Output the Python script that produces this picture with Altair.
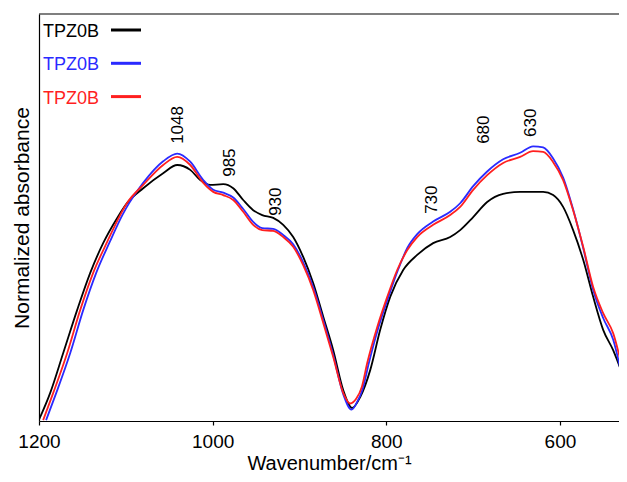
import altair as alt
import pandas as pd

# ---- series identity ----
series_names = ["TPZ0B", "TPZ0B", "TPZ0B"]
series_colors = ["#000000", "#2a2aff", "#ff1f1f"]

# ---- black spectrum ----
black_wn = [1200.0, 1187.1, 1172.1, 1156.0, 1141.0, 1126.1, 1109.9, 1098.4, 1080.0, 1057.0,
            1040.8, 1025.8, 1014.3, 1002.8, 987.8, 976.3, 964.8, 953.3, 942.9, 930.2,
            918.7, 907.2, 895.7, 884.2, 872.6, 861.1, 849.6, 839.3, 830.0, 818.5,
            807.0, 795.5, 780.5, 764.4, 746.0, 726.4, 714.9, 699.9, 683.8, 665.4,
            645.8, 619.3, 607.8, 596.3, 584.8, 573.2, 561.7, 550.2, 538.7, 527.2, 522.7]
black_abs = [0.003, 0.069, 0.167, 0.273, 0.364, 0.437, 0.499, 0.536, 0.572, 0.609,
             0.629, 0.617, 0.592, 0.580, 0.582, 0.572, 0.543, 0.518, 0.506, 0.499,
             0.482, 0.452, 0.403, 0.339, 0.256, 0.174, 0.076, 0.032, 0.059, 0.125,
             0.224, 0.305, 0.371, 0.408, 0.437, 0.452, 0.469, 0.501, 0.538, 0.558,
             0.563, 0.563, 0.555, 0.526, 0.469, 0.396, 0.305, 0.224, 0.174, 0.108, 0.075]

# ---- blue spectrum ----
blue_wn = [1191.8, 1180.1, 1164.0, 1149.0, 1134.1, 1118.5, 1104.0, 1096.0, 1080.0, 1057.0,
           1040.8, 1025.8, 1010.8, 999.3, 987.8, 976.3, 964.8, 953.3, 942.9, 930.2,
           918.7, 907.2, 895.7, 884.2, 872.6, 861.1, 849.6, 840.0, 833.5, 827.0,
           820.0, 808.9, 797.5, 786.0, 775.8, 764.4, 746.0, 726.4, 714.9, 699.9,
           683.8, 665.4, 645.8, 630.9, 619.3, 607.8, 596.3, 584.8, 573.2, 561.7,
           550.2, 538.7, 527.2, 522.7]
blue_abs = [0.002, 0.069, 0.167, 0.273, 0.364, 0.440, 0.506, 0.536, 0.585, 0.638,
            0.657, 0.637, 0.592, 0.568, 0.561, 0.549, 0.521, 0.489, 0.474, 0.472,
            0.457, 0.434, 0.390, 0.329, 0.248, 0.162, 0.066, 0.028, 0.047, 0.080,
            0.143, 0.231, 0.305, 0.374, 0.425, 0.459, 0.490, 0.514, 0.535, 0.577,
            0.613, 0.643, 0.659, 0.675, 0.672, 0.645, 0.598, 0.520, 0.425, 0.322,
            0.253, 0.200, 0.100, 0.062]

# ---- red spectrum ----
red_wn = [1195.2, 1183.6, 1167.5, 1152.5, 1137.6, 1121.5, 1106.5, 1098.4, 1080.0, 1057.0,
          1040.8, 1025.8, 1010.8, 999.3, 987.8, 976.3, 964.8, 953.3, 942.9, 930.2,
          918.7, 907.2, 895.7, 884.2, 872.6, 861.1, 849.6, 841.5, 834.5, 828.0,
          821.9, 810.4, 798.9, 787.4, 775.8, 764.4, 746.0, 726.4, 714.9, 699.9,
          683.8, 665.4, 645.8, 630.9, 619.3, 607.8, 596.3, 584.8, 573.2, 561.7,
          550.2, 538.7, 527.2, 522.7]
red_abs = [0.002, 0.069, 0.167, 0.273, 0.364, 0.440, 0.506, 0.536, 0.580, 0.629,
           0.649, 0.629, 0.585, 0.563, 0.555, 0.543, 0.514, 0.482, 0.469, 0.467,
           0.452, 0.428, 0.383, 0.322, 0.241, 0.157, 0.069, 0.043, 0.055, 0.085,
           0.143, 0.231, 0.305, 0.371, 0.420, 0.452, 0.482, 0.506, 0.526, 0.568,
           0.604, 0.634, 0.649, 0.663, 0.661, 0.636, 0.592, 0.518, 0.428, 0.329,
           0.265, 0.216, 0.125, 0.093]

# ---- peak annotations ----
peak_labels = ["1048", "985", "930", "730", "680", "630"]
peak_wn = [1039.7, 980.1, 926.8, 747.1, 687.2, 633.1]
peak_abs = [0.681, 0.600, 0.504, 0.509, 0.681, 0.698]

FONT = "Liberation Sans"
W, H = 580, 407
PX_PER_UNIT = 0.8682
x_end = 1200 - W / PX_PER_UNIT

x_scale = alt.Scale(domain=[1200, x_end], nice=False, zero=False)
y_scale = alt.Scale(domain=[0, 1], nice=False, zero=False)

x_axis = alt.Axis(values=[1200, 1000, 800, 600], title="Wavenumber/cm⁻¹", grid=False,
                  labelFlush=False, labelFontSize=19, labelFont=FONT, labelColor="black",
                  labelPadding=7, tickSize=4, tickColor="black", tickWidth=1.2,
                  domainColor="black", domainWidth=1.2, format="d",
                  titleFontSize=20, titleFont=FONT, titleFontWeight="normal",
                  titleColor="black", titleY=48, titleBaseline="alphabetic")
y_axis = alt.Axis(labels=False, ticks=False, grid=False, title="Normalized absorbance",
                  domainColor="black", domainWidth=1.2,
                  titleFontSize=21, titleFont=FONT, titleFontWeight="normal",
                  titleColor="black", titleAngle=270, titleX=-11, titleY=H / 2,
                  titleBaseline="alphabetic", titleAlign="center")

X = alt.X("wn:Q", scale=x_scale, axis=x_axis)
Y = alt.Y("ab:Q", scale=y_scale, axis=y_axis)

layers = []
all_series = [(black_wn, black_abs), (blue_wn, blue_abs), (red_wn, red_abs)]
for i, (wn, ab) in enumerate(all_series):
    df = pd.DataFrame({"wn": wn, "ab": ab})
    layers.append(
        alt.Chart(df).mark_line(color=series_colors[i], strokeWidth=1.8,
                                interpolate="monotone", clip=True).encode(
            x=X, y=Y, order=alt.Order("wn:Q", sort="descending"))
    )

peaks_df = pd.DataFrame({"wn": peak_wn, "ab": peak_abs, "label": peak_labels})
layers.append(
    alt.Chart(peaks_df).mark_text(angle=270, align="left", baseline="middle",
                                  fontSize=17, font=FONT, color="black").encode(
        x=X, y=Y, text="label:N")
)

# top frame line
frame = pd.DataFrame({"k": [0]})
layers.append(
    alt.Chart(frame).mark_rule(color="black", strokeWidth=1.2).encode(
        x=alt.value(0), x2=alt.value(W), y=alt.value(0))
)

# legend (manual, top-left inside plot)
for i, (name, col) in enumerate(zip(series_names, series_colors)):
    one = pd.DataFrame({"t": [name]})
    layers.append(
        alt.Chart(one).mark_text(align="left", baseline="middle", fontSize=18,
                                 font=FONT, color=col).encode(
            x=alt.value(4), y=alt.value(18 + 33.3 * i), text="t:N")
    )
    layers.append(
        alt.Chart(one).mark_rule(color=col, strokeWidth=3).encode(
            x=alt.value(72), x2=alt.value(102), y=alt.value(16 + 33.3 * i))
    )

chart = alt.layer(*layers).properties(
    width=W, height=H,
    autosize=alt.AutoSizeParams(type="none"),
    padding={"left": 31, "top": 6, "right": 0, "bottom": 53},
).configure_view(stroke=None)

chart.save("out.html", embed_options={"renderer": "svg", "actions": False})
